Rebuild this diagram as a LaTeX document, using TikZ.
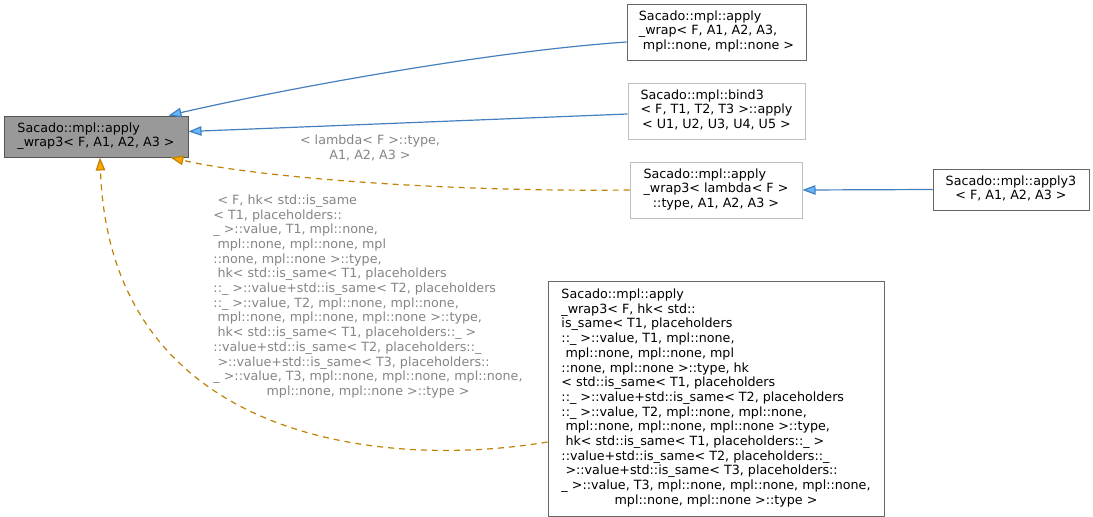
\documentclass[tikz,border=0pt]{standalone}
\usepackage{fontspec}
\setmainfont{DejaVu Sans}
\usetikzlibrary{arrows.meta}
\definecolor{basefill}{HTML}{999999}
\definecolor{basedraw}{HTML}{555555}
\definecolor{docdraw}{HTML}{666666}
\definecolor{undocdraw}{HTML}{BFBFBF}
\definecolor{inhline}{HTML}{4580BE}
\definecolor{inhfill}{HTML}{63B8FF}
\definecolor{tplline}{HTML}{C08205}
\definecolor{tplfill}{HTML}{FFA500}
\definecolor{lblgray}{HTML}{858585}
\newcommand{\lastln}[1]{\multicolumn{1}{@{}c@{}}{#1}}
\newcommand{\clstxt}[1]{\begin{tabular}{@{}l@{}}#1\end{tabular}}
\tikzset{
  cls/.style={draw=docdraw, fill=white, line width=1pt, inner sep=0pt,
              font=\fontsize{12.7}{14.7}\selectfont},
  basecls/.style={cls, fill=basefill, draw=basedraw},
  undoc/.style={cls, draw=undocdraw},
  inh/.style={-{Triangle[length=13pt,width=9.5pt,fill=inhfill]}, line width=1.2pt, draw=inhline},
  tpl/.style={-{Triangle[length=13pt,width=9.5pt,fill=tplfill]}, line width=1.2pt, draw=tplline,
              dash pattern=on 6pt off 5pt},
  lbl/.style={font=\fontsize{12.7}{14.7}\selectfont, text=lblgray, inner sep=0pt}
}
\begin{document}
\begin{tikzpicture}[x=1pt,y=-1pt]
  \useasboundingbox (0,0) rectangle (1093,517);

  % the class and what it is built from
  \node[basecls, minimum width=184pt, minimum height=41pt] (base) at (96,136.5)
      {\clstxt{Sacado::mpl::apply\\\_wrap3< F, A1, A2, A3 >}};
  \node[cls, minimum width=179pt, minimum height=56pt] (wrap) at (716.5,32)
      {\clstxt{Sacado::mpl::apply\\\_wrap< F, A1, A2, A3,\\\lastln{\ mpl::none, mpl::none >}}};
  \node[undoc, minimum width=177pt, minimum height=56pt] (bind) at (716.5,111)
      {\clstxt{Sacado::mpl::bind3\\< F, T1, T2, T3 >::apply\\\lastln{< U1, U2, U3, U4, U5 >}}};
  \node[undoc, minimum width=172pt, minimum height=56pt] (lambda) at (716,190)
      {\clstxt{Sacado::mpl::apply\\\_wrap3< lambda< F >\\\lastln{::type, A1, A2, A3 >}}};
  \node[cls, minimum width=156pt, minimum height=41pt] (apply3) at (1011,189.5)
      {\clstxt{Sacado::mpl::apply3\\\lastln{< F, A1, A2, A3 >}}};
  \node[cls, minimum width=336pt, minimum height=235pt] (hk) at (716,398.5)
      {\clstxt{Sacado::mpl::apply\\
        \_wrap3< F, hk< std::\\
        is\_same< T1, placeholders\\
        ::\_ >::value, T1, mpl::none,\\
        \ mpl::none, mpl::none, mpl\\
        ::none, mpl::none >::type, hk\\
        < std::is\_same< T1, placeholders\\
        ::\_ >::value+std::is\_same< T2, placeholders\\
        ::\_ >::value, T2, mpl::none, mpl::none,\\
        \ mpl::none, mpl::none, mpl::none >::type,\\
        \ hk< std::is\_same< T1, placeholders::\_ >\\
        ::value+std::is\_same< T2, placeholders::\_\\
        \ >::value+std::is\_same< T3, placeholders::\\
        \_ >::value, T3, mpl::none, mpl::none, mpl::none,\\
        \lastln{mpl::none, mpl::none >::type >}}};

  % inheritance
  \draw[inh] ([yshift=-10pt]wrap.west) .. controls (480,52) and (270,92) .. ([xshift=-20pt]base.north east);
  \draw[inh] ([yshift=-3pt]bind.west) -- ([yshift=5pt]base.east);
  \draw[inh] (apply3.west) -- (lambda.east);

  % template instances
  \draw[tpl] (lambda.west) .. controls (450,192) and (260,178) .. ([xshift=-18pt]base.south east);
  \draw[tpl] ([yshift=-43.5pt]hk.west) .. controls (380,470) and (110,440) .. ([xshift=4pt]base.south);
  \node[lbl] (lbllambda) at (370,149)
      {\clstxt{< lambda< F >::type,\\\lastln{A1, A2, A3 >}}};
  \node[lbl] (lblhk) at (368,297)
      {\clstxt{\ < F, hk< std::is\_same\\
        < T1, placeholders::\\
        \_ >::value, T1, mpl::none,\\
        \ mpl::none, mpl::none, mpl\\
        ::none, mpl::none >::type,\\
        \ hk< std::is\_same< T1, placeholders\\
        ::\_ >::value+std::is\_same< T2, placeholders\\
        ::\_ >::value, T2, mpl::none, mpl::none,\\
        \ mpl::none, mpl::none, mpl::none >::type,\\
        \ hk< std::is\_same< T1, placeholders::\_ >\\
        ::value+std::is\_same< T2, placeholders::\_\\
        \ >::value+std::is\_same< T3, placeholders::\\
        \_ >::value, T3, mpl::none, mpl::none, mpl::none,\\
        \lastln{mpl::none, mpl::none >::type >}}};
\end{tikzpicture}
\end{document}
